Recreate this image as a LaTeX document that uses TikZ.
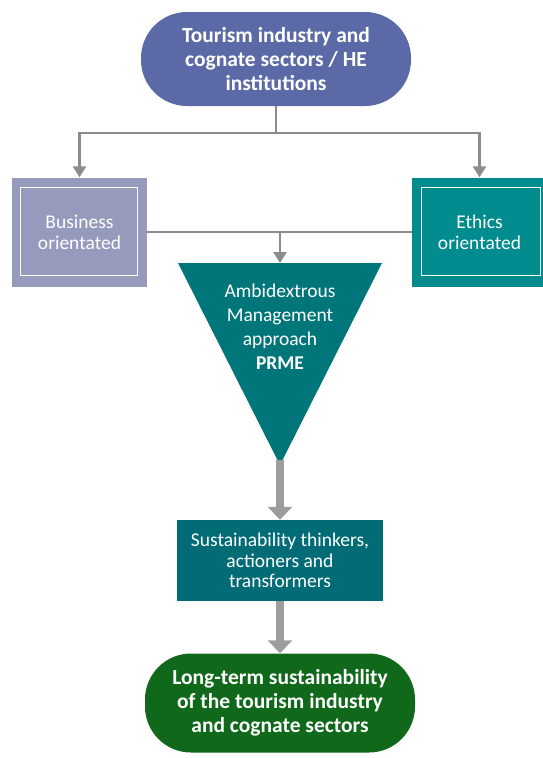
\documentclass[tikz,border=0pt]{standalone}
\usepackage{fontspec}
\setmainfont{Carlito}
\usetikzlibrary{arrows.meta}
\definecolor{topblue}{RGB}{91,106,166}
\definecolor{bizgrey}{RGB}{150,155,190}
\definecolor{ethteal}{RGB}{0,140,142}
\definecolor{triteal}{RGB}{0,118,122}
\definecolor{sustteal}{RGB}{2,108,118}
\definecolor{longgreen}{RGB}{16,104,26}
\definecolor{linegrey}{RGB}{140,140,140}

\begin{document}
\begin{tikzpicture}[x=1pt,y=-1pt,
    pill/.style={rounded corners=46pt, inner sep=0pt, text=white, align=center,
      font=\bfseries\fontsize{21.5}{24}\selectfont},
    orient/.style={minimum width=135pt, minimum height=109pt, inner sep=0pt, text=white,
      align=center, font=\fontsize{19.5}{21}\selectfont},
    thin/.style={draw=linegrey, line width=2.5pt},
    thinarrow/.style={thin, -{Triangle[width=13pt,length=11pt]}},
    bigarrow/.style={draw=linegrey!85, line width=8pt, -{Triangle[width=24pt,length=13pt]}}]
  \useasboundingbox (0,0) rectangle (542,758);

  \node[pill, fill=topblue, minimum width=270pt, minimum height=94pt] (top) at (276,59)
    {Tourism industry and\\cognate sectors / HE\\institutions};
  \node[orient, fill=bizgrey] (biz) at (79.5,232) {Business\\orientated};
  \node[orient, fill=ethteal] (eth) at (479.5,232) {Ethics\\orientated};
  \draw[white, line width=1.2pt] ([shift={(9,10)}]biz.north west) rectangle ([shift={(-10,-11)}]biz.south east);
  \draw[white, line width=1.2pt] ([shift={(10,10)}]eth.north west) rectangle ([shift={(-7,-11)}]eth.south east);

  \coordinate (tritop) at (280,263);
  \coordinate (apex) at (280,465);
  \fill[triteal] (178,263) -- (382,263) -- (apex) -- cycle;
  \node[text=white, align=center, font=\fontsize{19.5}{24}\selectfont] (amp) at (280,327)
    {Ambidextrous\\Management\\approach\\\textbf{PRME}};

  \node[fill=sustteal, minimum width=206pt, minimum height=81pt, inner sep=0pt, text=white,
    align=center, font=\fontsize{19.5}{20.5}\selectfont] (sust) at (280,560.5)
    {Sustainability thinkers,\\actioners and\\transformers};
  \node[pill, fill=longgreen, minimum width=270pt, minimum height=99pt] (long) at (280,703)
    {Long-term sustainability\\of the tourism industry\\and cognate sectors};

  \draw[thin] (top.south) -- ++(0,27) coordinate (split);
  \draw[thinarrow] (split) -| (biz.north);
  \draw[thinarrow] (split) -| (eth.north);
  \draw[thin] (biz.east) -- (eth.west);
  \draw[thinarrow] (tritop |- biz.east) -- (tritop);
  \draw[bigarrow] ([yshift=5pt]apex) -- (sust.north);
  \draw[bigarrow] (sust.south) -- (long.north);
\end{tikzpicture}
\end{document}
